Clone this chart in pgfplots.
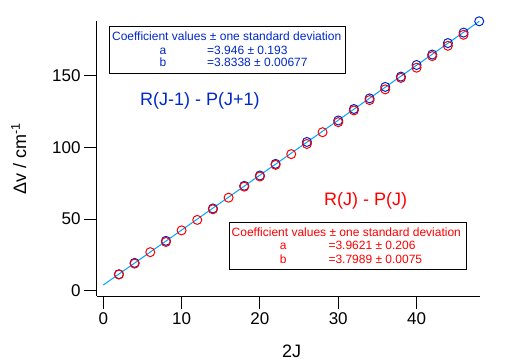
\documentclass[border=0pt]{standalone}
\usepackage{pgfplots}
\pgfplotsset{compat=1.18}
\usepackage{fontspec}
\setmainfont{Liberation Sans}
\definecolor{myblue}{RGB}{0,40,200}
\definecolor{myred}{RGB}{255,0,0}
\definecolor{fitc}{RGB}{0,165,255}
\begin{document}
\begin{tikzpicture}
\path[use as bounding box] (-97bp,-67bp) rectangle (429bp,296bp);
\begin{axis}[at={(0,0)}, anchor=south west, scale only axis,
 width=383bp, height=275bp,
 xmin=-0.8, xmax=48.1, ymin=-3.7, ymax=188.2,
 axis x line*=bottom, axis y line*=left,
 axis line style={line width=1bp, black},
 xtick={0,10,20,30,40}, ytick={0,50,100,150},
 tick align=outside, major tick length=13bp,
 tick style={line width=1bp, black},
 minor tick num=0,
 clip=false,
 /pgf/number format/assume math mode=true,
 tick label style={font=\fontsize{17bp}{19bp}\selectfont},
 label style={font=\fontsize{18bp}{20bp}\selectfont},
 xlabel={2J},
 ylabel={Δv / cm\textsuperscript{-1}},
 xlabel style={at={(axis description cs:0.508,-0.223)}, anchor=base},
 ylabel style={at={(axis description cs:-0.204,0.5)}, anchor=center},
]
\addplot[fitc, line width=1bp] coordinates {(0,3.95) (48,187.97)};
\addplot[only marks, mark=o, mark size=4.5bp, myblue, mark options={line width=1bp}] coordinates {
(2,11.5) (4,19.4) (8,34.8) (14,57.4) (18,73.2) (20,80.4) (22,88.5) (26,103.8)
(30,118.8) (32,126.8) (34,134.2) (36,142.2) (38,149.4) (40,157.5) (42,164.8)
(44,172.8) (46,180.1) (48,188.0)};
\addplot[only marks, mark=o, mark size=4.5bp, myred, mark options={line width=1bp}] coordinates {
(2,11.3) (4,18.9) (6,26.9) (8,34.0) (10,42.1) (12,49.4) (14,56.8) (16,64.9)
(18,72.6) (20,79.7) (22,87.8) (24,95.3) (26,102.4) (28,110.6) (30,117.6)
(32,125.8) (34,133.0) (36,140.5) (38,148.5) (40,155.6) (42,163.7) (44,170.9)
(46,178.6)};
\end{axis}
% labels
\node[myblue, font=\fontsize{18bp}{20bp}\selectfont, anchor=center] at (102.9bp,195.3bp) {R(J-1) - P(J+1)};
\node[myred, font=\fontsize{18bp}{20bp}\selectfont, anchor=center] at (268.7bp,95.3bp) {R(J) - P(J)};
% blue box
\draw[black, line width=1bp, fill=white] (12bp,222bp) rectangle (248bp,269.3bp);
\begin{scope}[myblue, every node/.style={font=\fontsize{12bp}{13bp}\selectfont, inner sep=0pt}]
\node[anchor=base] at (129.7bp,255.3bp) {Coefficient values ± one standard deviation};
\node[anchor=base] at (66bp,241.7bp) {a};
\node[anchor=base west] at (110bp,241.7bp) {=3.946 ± 0.193};
\node[anchor=base] at (66bp,229.3bp) {b};
\node[anchor=base west] at (110bp,229.3bp) {=3.8338 ± 0.00677};
\end{scope}
% red box
\draw[black, line width=1bp, fill=white] (132.3bp,26bp) rectangle (369bp,73.3bp);
\begin{scope}[myred, every node/.style={font=\fontsize{12bp}{13bp}\selectfont, inner sep=0pt}]
\node[anchor=base] at (249.3bp,59.3bp) {Coefficient values ± one standard deviation};
\node[anchor=base] at (186.3bp,46.7bp) {a};
\node[anchor=base west] at (231.3bp,46.7bp) {=3.9621 ± 0.206};
\node[anchor=base] at (186.3bp,32.7bp) {b};
\node[anchor=base west] at (231.3bp,32.7bp) {=3.7989 ± 0.0075};
\end{scope}
\end{tikzpicture}
\end{document}
